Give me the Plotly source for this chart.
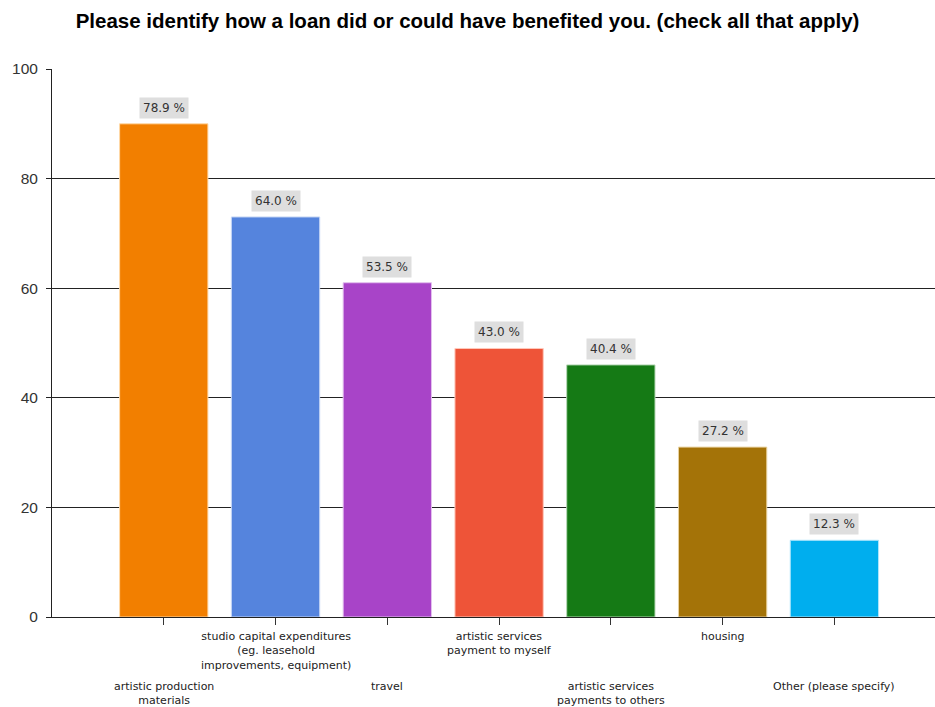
import plotly.graph_objects as go

categories = [
    "artistic production<br>materials",
    "studio capital expenditures<br>(eg. leasehold<br>improvements, equipment)",
    "travel",
    "artistic services<br>payment to myself",
    "artistic services<br>payments to others",
    "housing",
    "Other (please specify)",
]
counts = [90, 73, 61, 49, 46, 31, 14]
percent_labels = ["78.9 %", "64.0 %", "53.5 %", "43.0 %", "40.4 %", "27.2 %", "12.3 %"]
bar_colors = ["#F27F00", "#5584DD", "#A844C8", "#EE5438", "#157A15", "#A47308", "#00AEEE"]
bar_edges = ["#FFD9A8", "#C6D6F5", "#E3C0EE", "#FFC8BC", "#B7D8B7", "#E8D2A0", "#B0E6FB"]
label_row = [2, 1, 2, 1, 2, 1, 2]

fig = go.Figure()
fig.add_trace(go.Bar(
    x=categories, y=counts, width=0.79,
    marker=dict(color=bar_colors, line=dict(color=bar_edges, width=1)),
    hoverinfo="skip",
))

annotations = []
for cat, cnt, pl in zip(categories, counts, percent_labels):
    annotations.append(dict(
        x=cat, y=cnt, xref="x", yref="y", text=pl, showarrow=False,
        yanchor="bottom", yshift=5, bgcolor="#DEDEDE", borderpad=3,
        font=dict(family="DejaVu Sans", size=12, color="#333333"),
    ))
for cat, row in zip(categories, label_row):
    annotations.append(dict(
        x=cat, y=0, xref="x", yref="paper", text=cat, showarrow=False,
        yanchor="top", yshift=-11 if row == 1 else -61,
        font=dict(family="DejaVu Sans", size=11, color="#222222"),
    ))

fig.update_layout(
    width=935, height=707,
    margin=dict(l=52, r=0, t=69, b=90),
    paper_bgcolor="white", plot_bgcolor="white",
    showlegend=False,
    title=dict(
        text="<b>Please identify how a loan did or could have benefited you. (check all that apply)</b>",
        x=0.5, xanchor="center", y=0.970, yanchor="middle",
        font=dict(family="Liberation Sans", size=20.5, color="#000000"),
    ),
    annotations=annotations,
    bargap=0.2,
)
fig.update_xaxes(
    type="category", range=[-1.0, 6.9],
    showticklabels=False, ticks="outside", ticklen=7, tickcolor="#333333",
    showline=True, linecolor="#222222", linewidth=1,
    showgrid=False, zeroline=False,
)
fig.update_yaxes(
    range=[0, 100], tickvals=[0, 20, 40, 60, 80, 100],
    ticks="outside", ticklen=5, tickcolor="#222222",
    ticklabelstandoff=5,
    showline=True, linecolor="#222222", linewidth=1,
    showgrid=True, gridcolor="#222222", gridwidth=1,
    zeroline=False,
    tickfont=dict(family="Liberation Sans", size=15.5, color="#333333"),
)

fig.write_html("out.html")
